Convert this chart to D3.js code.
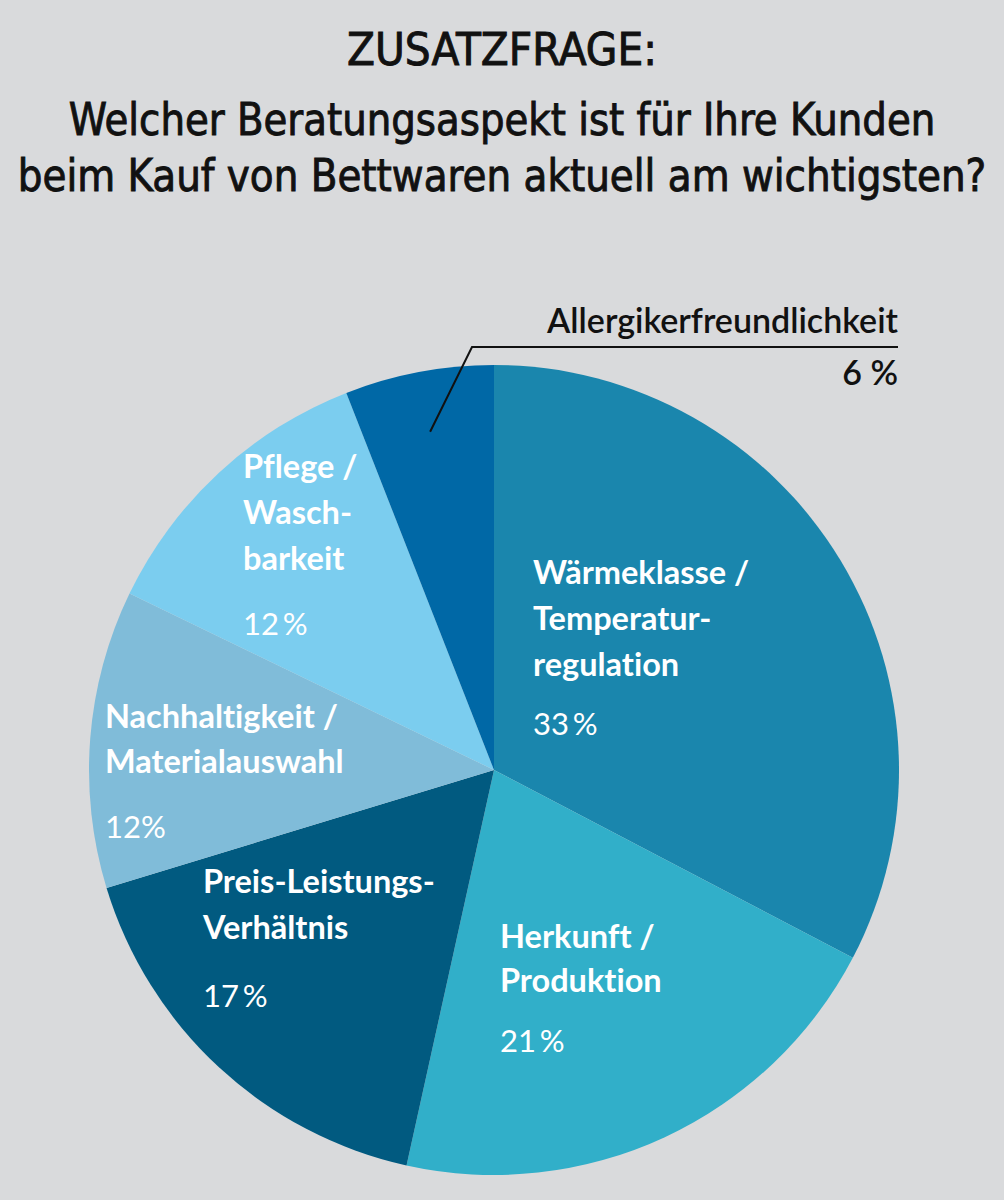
<!DOCTYPE html>
<html>
<head>
<meta charset="utf-8">
<script src="https://d3js.org/d3.v7.min.js"></script>
<style>
  body { margin: 0; background: #d9dadc; }
  svg { display: block; }
  text { font-variant-ligatures: none; }
  .title { font-family: "DejaVu Sans Condensed", "Liberation Sans Narrow", sans-serif; font-weight: 400; font-size: 45px; fill: #111; stroke: #111; stroke-width: 0.9px; text-anchor: middle; }
  .lbl { font-family: Lato, "Open Sans", sans-serif; font-weight: 700; font-size: 32.5px; fill: #fff; }
  .pct { font-family: Lato, "Open Sans", sans-serif; font-weight: 400; font-size: 31px; fill: #fff; }
  .outer { font-family: Lato, "Open Sans", sans-serif; font-weight: 600; font-size: 34px; fill: #111; text-anchor: end; }
</style>
</head>
<body>
<div id="chart"></div>
<script>
// Data
const categories = ["Wärmeklasse / Temperaturregulation", "Herkunft / Produktion", "Preis-Leistungs-Verhältnis",
  "Nachhaltigkeit / Materialauswahl", "Pflege / Waschbarkeit", "Allergikerfreundlichkeit"];
const values = [33, 21, 17, 12, 12, 6];
const colors = ["#1a86ad", "#31afc9", "#015a80", "#80bcd9", "#7bcdef", "#0068a6"];
// label lines as printed (hyphenation from the original)
const labelLines = [
  ["Wärmeklasse /", "Temperatur-", "regulation"],
  ["Herkunft /", "Produktion"],
  ["Preis-Leistungs-", "Verhältnis"],
  ["Nachhaltigkeit /", "Materialauswahl"],
  ["Pflege /", "Wasch-", "barkeit"],
  ["Allergikerfreundlichkeit"]
];
const pctLabels = ["33\u2009%", "21\u2009%", "17\u2009%", "12%", "12\u2009%", "6 %"];
const titleLines = ["ZUSATZFRAGE:", "Welcher Beratungsaspekt ist für Ihre Kunden", "beim Kauf von Bettwaren aktuell am wichtigsten?"];

const W = 1004, H = 1200;
const cx = 494, cy = 770, R = 405;

const svg = d3.select("#chart").append("svg")
  .attr("width", W).attr("height", H);

svg.append("rect").attr("width", W).attr("height", H).attr("fill", "#d9dadc");

// Titles: squeeze horizontally to the width of the original condensed face
const titleY = [65, 135, 191];
const titleLen = [310, 867, 969];
svg.selectAll("text.title").data(titleLines).join("text")
  .attr("class", "title")
  .text(d => d)
  .each(function(d, i) {
    const len = this.getComputedTextLength();
    d3.select(this).attr("transform", `translate(502,${titleY[i]}) scale(${titleLen[i] / len},1)`);
  });

const pie = d3.pie().sort(null).value(d => d);
const arcs = pie(values);
const arc = d3.arc().innerRadius(0).outerRadius(R);

const g = svg.append("g").attr("transform", `translate(${cx},${cy})`);
g.selectAll("path").data(arcs).join("path")
  .attr("d", arc)
  .attr("fill", (d, i) => colors[i]);

// Inside labels: left x, first baseline, line spacing, pct baseline
const labelPos = [
  { x: 533, y: 584, dy: 46, py: 735 },
  { x: 500, y: 948, dy: 44, py: 1052 },
  { x: 203, y: 893, dy: 46, py: 1007 },
  { x: 105, y: 728, dy: 45, py: 838 },
  { x: 243, y: 478, dy: 46, py: 635 }
];

labelPos.forEach((p, i) => {
  const t = svg.append("text").attr("class", "lbl");
  labelLines[i].forEach((line, j) => {
    t.append("tspan").attr("x", p.x).attr("y", p.y + j * p.dy).text(line);
  });
  svg.append("text").attr("class", "pct")
    .attr("x", p.x).attr("y", p.py).text(pctLabels[i]);
});

// Outer label for the small slice with leader line
const a = arcs[5];
const mid = (a.startAngle + a.endAngle) / 2;
const inner = [cx + Math.sin(mid) * R * 0.85, cy - Math.cos(mid) * R * 0.85];
svg.append("path")
  .attr("d", `M${inner[0]},${inner[1]} L472,347 L898,347`)
  .attr("fill", "none").attr("stroke", "#111").attr("stroke-width", 2);
svg.append("text").attr("class", "outer").attr("x", 898).attr("y", 333).text(labelLines[5][0]);
svg.append("text").attr("class", "outer").attr("x", 898).attr("y", 385).text(pctLabels[5]);
</script>
</body>
</html>
